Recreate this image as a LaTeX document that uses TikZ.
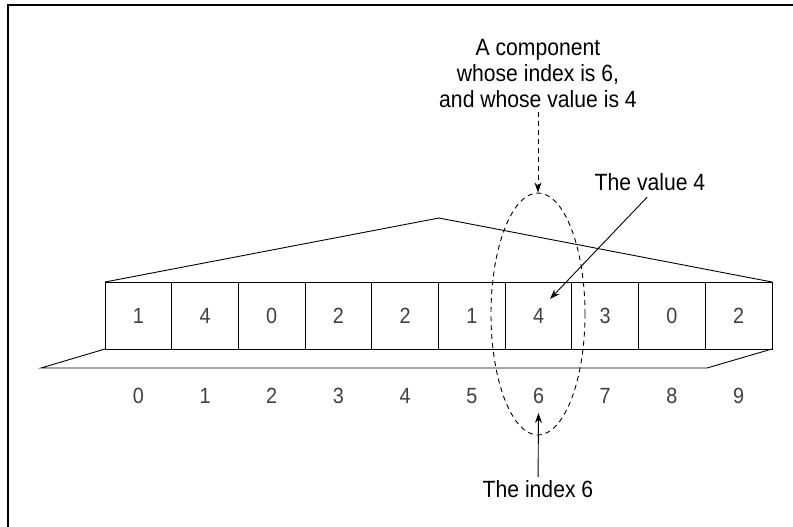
\documentclass[tikz,border=0pt]{standalone}
\usepackage{fontspec}
\setmainfont{Liberation Sans}[FakeStretch=0.9]
\usetikzlibrary{shapes.geometric, arrows.meta, positioning, calc}
\tikzset{
    cell/.style={rectangle, draw, line width=0.9pt, outer sep=0pt, inner sep=0pt, minimum width=66.7pt, minimum height=67pt, text=black!75, font=\fontsize{22}{26}\selectfont},
    index/.style={inner sep=1pt, text=black!75, font=\fontsize{22}{26}\selectfont},
    caption/.style={align=center, font=\fontsize{23.5}{26}\selectfont},
    component/.style={ellipse, draw, line width=0.9pt, dash pattern=on 5pt off 4pt, minimum width=94pt, minimum height=242pt},
    pointer/.style={-{Stealth[length=10pt, width=7pt]}, line width=0.9pt}
}

\begin{document}
\begin{tikzpicture}[x=1pt, y=-1pt]
    \useasboundingbox (0,0) rectangle (793,527);
    \draw[line width=1.5pt] (8,527) -- (8,5) -- (793,5);

    % the array of components
    \node[cell] (c0) at (138.35,315.5) {1};
    \foreach \v [count=\n from 1, evaluate=\n as \p using int(\n-1)] in {4,0,2,2,1,4,3,0,2}
        \node[cell, right=0pt of c\p] (c\n) {\v};
    \foreach \n in {0,...,9}
        \node[index] (i\n) at ($(c\n)+(0,80.5)$) {\n};

    % roof and floor
    \coordinate (apex) at (439,218);
    \coordinate (floorleft) at (41,368);
    \coordinate (floorright) at (707,368);
    \draw[line width=0.9pt] (c0.north west) -- (apex) -- (c9.north east);
    \draw[line width=0.9pt] (c0.south west) -- (floorleft) -- (floorright) -- (c9.south east);

    \node[component] (comp) at (538,314) {};
    \node[caption] (compnote) at (538,74) {A component\\whose index is 6,\\and whose value is 4};
    \node[caption] (vnote) at (650,182) {The value 4};
    \node[caption] (inote) at (538,489) {The index 6};
    \coordinate (vtip) at (550,299);

    \draw[pointer, dash pattern=on 5pt off 4pt] (compnote) -- (comp.north);
    \draw[pointer, shorten <=4pt] (vnote.south) -- (vtip);
    \draw[pointer, shorten >=8pt] (inote) -- (i6.south);
\end{tikzpicture}
\end{document}
